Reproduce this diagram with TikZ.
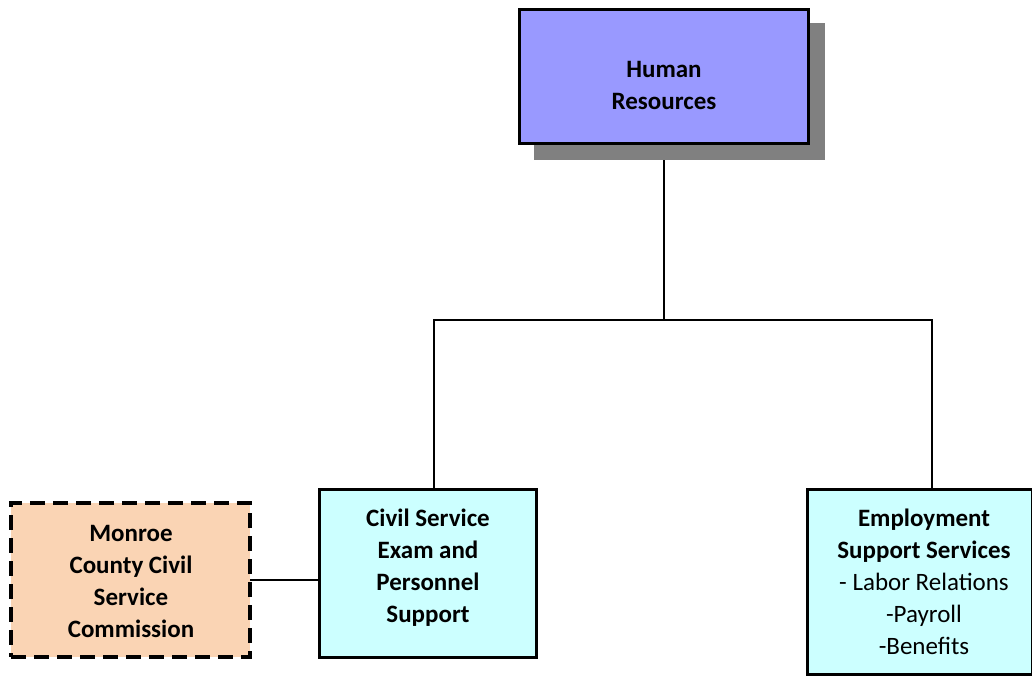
\documentclass[tikz,border=0pt]{standalone}
\usepackage{fontspec}
\setmainfont{Carlito}
\definecolor{hrfill}{HTML}{9999FF}
\definecolor{shadowgray}{HTML}{808080}
\definecolor{cyanfill}{HTML}{CCFFFF}
\definecolor{peachfill}{HTML}{FAD4B4}
\begin{document}
\begin{tikzpicture}[x=1pt,y=-1pt,
  boxbase/.style={draw=black, line width=3pt, inner sep=0pt, outer sep=0pt},
  hrbox/.style={boxbase, fill=hrfill, minimum width=289pt, minimum height=133pt},
  shadowbox/.style={fill=shadowgray, inner sep=0pt, outer sep=0pt, minimum width=291pt, minimum height=137pt},
  unitbox/.style={boxbase, fill=cyanfill},
  dashbox/.style={boxbase, fill=peachfill, dash pattern=on 15pt off 8pt, line width=3.5pt},
  txt/.style={align=center, font=\fontsize{25}{32}\selectfont, inner sep=0pt},
  conn/.style={line width=1.3pt}]
\useasboundingbox (0,0) rectangle (1032,677);
% shadow and Human Resources box
\node[shadowbox] (hrshadow) at (679.5,91.5) {};
\node[hrbox] (hr) at (663.5,76.5) {};
\node[txt] (hrt) at (664,85) {\bfseries Human\\\bfseries Resources};
% lower boxes
\node[unitbox, minimum width=217pt, minimum height=168pt] (cs) at (427.5,573) {};
\node[txt] (cst) at (428,567.5) {\bfseries Civil Service\\\bfseries Exam and\\\bfseries Personnel\\\bfseries Support};
\node[unitbox, minimum width=225pt, minimum height=185pt] (es) at (919.5,581.5) {};
\node[txt] (est) at (924,582) {\bfseries Employment\\\bfseries Support Services\\- Labor Relations\\-Payroll\\-Benefits};
\node[dashbox, minimum width=239pt, minimum height=154pt] (mc) at (130.5,580) {};
\node[txt] (mct) at (131,581) {\bfseries Monroe\\\bfseries County Civil\\\bfseries Service\\\bfseries Commission};
% connectors
\coordinate (junction) at (664,320);
\draw[conn] (hrshadow.south -| junction) -- (junction);
\draw[conn] (cs.north -| 434,0) |- (junction) -| (es.north -| 932,0);
\draw[conn] (mc.east) -- (mc.east -| cs.west);
\end{tikzpicture}
\end{document}
